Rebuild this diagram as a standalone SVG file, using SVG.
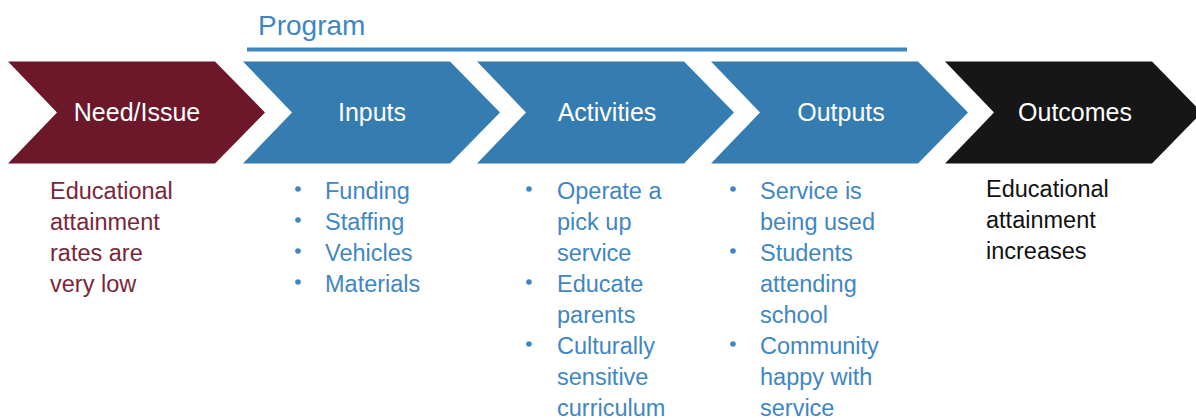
<svg xmlns="http://www.w3.org/2000/svg" width="1196" height="418" viewBox="0 0 1196 418">
<style>
.lbl{font-family:"Liberation Sans",Arial,sans-serif;font-size:25px;fill:#ffffff;text-anchor:middle}
.body{font-family:"Liberation Sans",Arial,sans-serif;font-size:23.5px}
.blue{fill:#3f87c2}
.red{fill:#7a2639}
.blk{fill:#111111}
.blueC{fill:#357cb1}
</style>
<defs>
<path id="chev" d="M0,0 L207,0 L257,51 L207,102 L0,102 L49,51 Z"/>
</defs>
<rect width="1196" height="418" fill="#ffffff"/>
<g id="program">
<text x="258" y="35" font-family="Liberation Sans, Arial, sans-serif" font-size="28" fill="#3f87c2">Program</text>
<rect x="247" y="47.5" width="660" height="4" fill="#3f87c2"/>
</g>
<g id="need">
<use href="#chev" x="8" y="61.5" fill="#6d172a"/>
<text class="lbl" x="137" y="121">Need/Issue</text>
<text class="body red"><tspan x="50" y="199">Educational</tspan><tspan x="50" y="230">attainment</tspan><tspan x="50" y="261">rates are</tspan><tspan x="50" y="292">very low</tspan></text>
</g>
<g id="inputs">
<use href="#chev" x="243" y="61.5" fill="#357cb1"/>
<text class="lbl" x="372" y="121">Inputs</text>
<g class="blue"><circle cx="298" cy="189" r="2.8"/><circle cx="298" cy="220" r="2.8"/><circle cx="298" cy="251" r="2.8"/><circle cx="298" cy="282" r="2.8"/></g>
<text class="body blue"><tspan x="325" y="199">Funding</tspan><tspan x="325" y="230">Staffing</tspan><tspan x="325" y="261">Vehicles</tspan><tspan x="325" y="292">Materials</tspan></text>
</g>
<g id="activities">
<use href="#chev" x="477" y="61.5" fill="#357cb1"/>
<text class="lbl" x="607" y="121">Activities</text>
<g class="blue"><circle cx="529" cy="189" r="2.8"/><circle cx="529" cy="282" r="2.8"/><circle cx="529" cy="344" r="2.8"/></g>
<text class="body blue"><tspan x="557" y="199">Operate a</tspan><tspan x="557" y="230">pick up</tspan><tspan x="557" y="261">service</tspan><tspan x="557" y="292">Educate</tspan><tspan x="557" y="323">parents</tspan><tspan x="557" y="354">Culturally</tspan><tspan x="557" y="385">sensitive</tspan><tspan x="557" y="416">curriculum</tspan></text>
</g>
<g id="outputs">
<use href="#chev" x="711" y="61.5" fill="#357cb1"/>
<text class="lbl" x="841" y="121">Outputs</text>
<g class="blue"><circle cx="733" cy="189" r="2.8"/><circle cx="733" cy="251" r="2.8"/><circle cx="733" cy="344" r="2.8"/></g>
<text class="body blue"><tspan x="760" y="199">Service is</tspan><tspan x="760" y="230">being used</tspan><tspan x="760" y="261">Students</tspan><tspan x="760" y="292">attending</tspan><tspan x="760" y="323">school</tspan><tspan x="760" y="354">Community</tspan><tspan x="760" y="385">happy with</tspan><tspan x="760" y="416">service</tspan></text>
</g>
<g id="outcomes">
<use href="#chev" x="945" y="61.5" fill="#161616"/>
<text class="lbl" x="1075" y="121">Outcomes</text>
<text class="body blk"><tspan x="986" y="197">Educational</tspan><tspan x="986" y="228">attainment</tspan><tspan x="986" y="259">increases</tspan></text>
</g>
<g id="connectors"/>
</svg>
